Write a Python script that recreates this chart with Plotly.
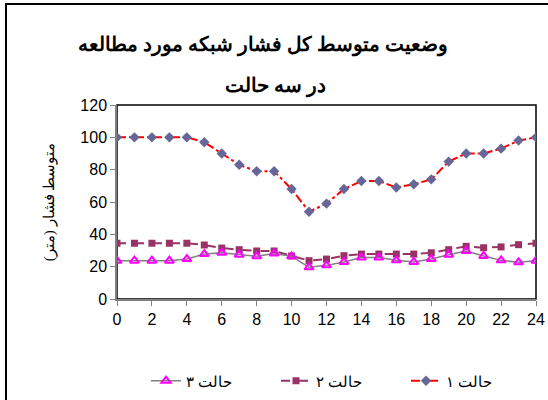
import plotly.graph_objects as go

hours = list(range(25))
state1 = [100, 100, 100, 100, 100, 97, 90, 83, 79, 79, 68, 54, 59, 68, 73, 73, 69, 71, 74, 85, 90, 90, 93, 98, 100]
state2 = [34.5, 34.5, 34.5, 34.5, 34.5, 33.4, 31.5, 30.5, 29.7, 29.7, 26.6, 23.7, 24.7, 26.8, 27.8, 27.8, 27.8, 27.8, 28.6, 30.5, 32.6, 31.7, 32.2, 33.6, 34.5]
state3 = [23.7, 23.7, 23.7, 23.7, 24.7, 27.8, 28.6, 27.4, 26.4, 28.2, 26.4, 19.6, 20.8, 22.9, 25.6, 25.6, 23.9, 22.9, 24.7, 27.4, 29.7, 26.6, 23.9, 22.7, 23.7]
names = ["حالت ۱", "حالت ۲", "حالت ۳"]
title1 = "وضعیت متوسط کل فشار شبکه مورد مطالعه"
title2 = "در سه حالت"
ytitle = "متوسط فشار (متر)"

fig = go.Figure()
fig.add_trace(go.Scatter(x=hours, y=state1, name=names[0], mode="lines+markers",
                         line=dict(color="#FF0000", width=2, dash="dashdot"),
                         marker=dict(symbol="diamond", size=8, color="#666699")))
fig.add_trace(go.Scatter(x=hours, y=state2, name=names[1], mode="lines+markers",
                         line=dict(color="#993366", width=2, dash="dash"),
                         marker=dict(symbol="square", size=7, color="#993366")))
fig.add_trace(go.Scatter(x=hours, y=state3, name=names[2], mode="lines+markers",
                         line=dict(color="#808080", width=1.5),
                         marker=dict(symbol="triangle-up-open", size=8, color="#FF00FF",
                                     line=dict(width=2, color="#FF00FF"))))

L, R, T, B = 117, 12, 105, 101
W, H = 548, 400
pw, ph = W - L - R, H - T - B

def px(x):
    return (x - L) / pw

def py(y):
    return (H - B - y) / ph

fig.update_layout(
    width=W, height=H,
    margin=dict(l=L, r=R, t=T, b=B, autoexpand=False),
    paper_bgcolor="white", plot_bgcolor="white",
    showlegend=True,
    legend=dict(orientation="h", x=px(146), xanchor="left", y=py(381), yanchor="middle",
                traceorder="reversed", bgcolor="rgba(0,0,0,0)",
                entrywidth=85, entrywidthmode="pixels",
                font=dict(family="Liberation Serif", size=15, color="black")),
    xaxis=dict(range=[0, 24], tickmode="linear", dtick=2, tick0=0,
               showgrid=False, zeroline=False, showline=True, linecolor="#808080", linewidth=1.5,
               ticks="outside", ticklen=5, tickcolor="#808080",
               tickfont=dict(family="Liberation Sans", size=16, color="black")),
    yaxis=dict(range=[0, 120], tickmode="linear", dtick=20, tick0=0,
               showgrid=False, zeroline=False, showline=True, linecolor="#808080", linewidth=1.5,
               ticks="outside", ticklen=5, tickcolor="#808080",
               tickfont=dict(family="Liberation Sans", size=16, color="black"),
               title=dict(text=ytitle, font=dict(family="Liberation Serif", size=15, color="black"),
                          standoff=22)),
    shapes=[
        dict(type="rect", xref="paper", yref="paper", x0=0, x1=1, y0=0, y1=1,
             line=dict(color="black", width=1.5), layer="below"),
        dict(type="rect", xref="paper", yref="paper", x0=px(6), x1=px(600), y0=py(450), y1=py(4),
             line=dict(color="black", width=2)),
    ],
    annotations=[
        dict(text="<b>" + title1 + "</b>", xref="paper", yref="paper", x=px(263), y=py(45),
             xanchor="center", yanchor="middle", showarrow=False,
             font=dict(family="Liberation Serif", size=20, color="black")),
        dict(text="<b>" + title2 + "</b>", xref="paper", yref="paper", x=px(275), y=py(86),
             xanchor="center", yanchor="middle", showarrow=False,
             font=dict(family="Liberation Serif", size=20, color="black")),
    ],
)

fig.write_html("out.html", config={"displayModeBar": False},
               post_script="document.body.style.margin='0';")
